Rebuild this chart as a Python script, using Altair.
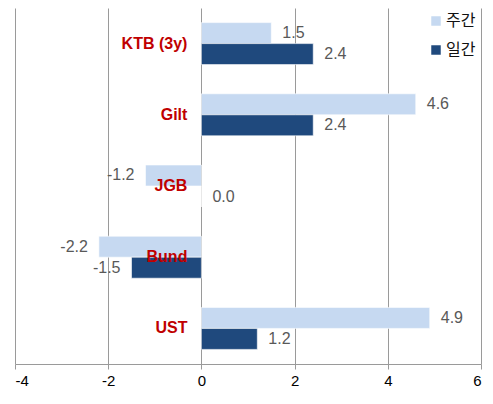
import altair as alt
import pandas as pd

categories = ["KTB (3y)", "Gilt", "JGB", "Bund", "UST"]
weekly = [1.5, 4.6, -1.2, -2.2, 4.9]
daily = [2.4, 2.4, 0.0, -1.5, 1.2]
series_names = ["주간", "일간"]
series_colors = ["#C6D9F1", "#1F497D"]
x_ticks = [-4, -2, 0, 2, 4, 6]

rows = []
for c, w, d in zip(categories, weekly, daily):
    rows.append({"cat": c, "series": series_names[0], "value": w, "label": f"{w:.1f}"})
    rows.append({"cat": c, "series": series_names[1], "value": d, "label": f"{d:.1f}"})
df = pd.DataFrame(rows)
cat_df = pd.DataFrame({"cat": categories})

y_enc = alt.Y("cat:N", sort=categories, axis=None,
              scale=alt.Scale(paddingInner=0.41, paddingOuter=0.205))
yoff = alt.YOffset("series:N", sort=series_names)
x_enc = alt.X("value:Q", scale=alt.Scale(domain=[-4, 6], nice=False),
              axis=alt.Axis(values=x_ticks, title=None, grid=True, gridColor="#9a9a9a",
                            domainColor="#9a9a9a", tickColor="#9a9a9a", tickSize=5,
                            labelFontSize=15, labelColor="#000000", labelPadding=4,
                            labelFont="Liberation Sans",
                            labelExpr="replace(datum.label, '\u2212', '-')"))

bars = alt.Chart(df).mark_bar(stroke="white", strokeWidth=0.6).encode(
    x=x_enc,
    y=y_enc,
    yOffset=yoff,
    color=alt.Color("series:N", sort=series_names,
                    scale=alt.Scale(domain=series_names, range=series_colors),
                    legend=alt.Legend(title=None, orient="none", legendX=413, legendY=5,
                                      symbolType="square", symbolSize=90,
                                      symbolStrokeWidth=0, labelFontSize=16,
                                      labelFont="Noto Sans CJK KR", labelColor="#111111",
                                      rowPadding=13, labelOffset=2, labelLimit=0)),
)

pos_text = alt.Chart(df).transform_filter("datum.value >= 0").mark_text(
    align="left", baseline="middle", dx=11, fontSize=16, color="#595959",
    font="Liberation Sans").encode(
    x="value:Q", y=y_enc, yOffset=yoff, text="label:N")

neg_text = alt.Chart(df).transform_filter("datum.value < 0").mark_text(
    align="right", baseline="middle", dx=-11, fontSize=16, color="#595959",
    font="Liberation Sans").encode(
    x="value:Q", y=y_enc, yOffset=yoff, text="label:N")

cat_text = alt.Chart(cat_df).mark_text(
    align="right", baseline="middle", dx=-14, fontSize=16, fontWeight="bold",
    color="#C00000", font="Liberation Sans").encode(
    x=alt.datum(0), y=y_enc, text="cat:N")

chart = alt.layer(bars, pos_text, neg_text, cat_text).properties(
    width=466, height=356,
    autosize=alt.AutoSizeParams(type="none"),
    padding={"left": 7, "top": 0, "right": 4, "bottom": 24},
).configure_view(stroke=None)

chart.save("out.html", embed_options={"renderer": "svg", "actions": False})
